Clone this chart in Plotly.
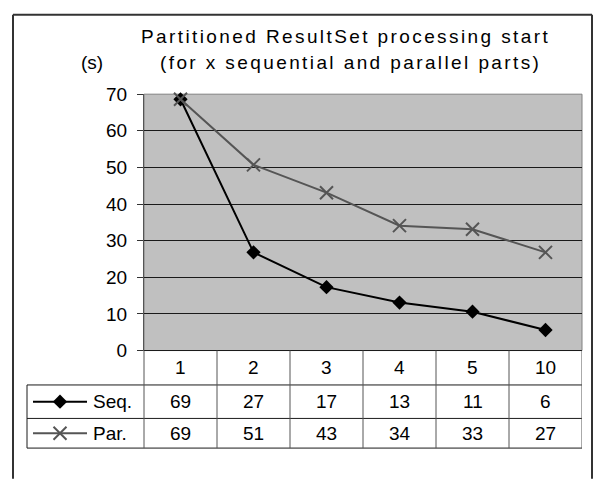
import plotly.graph_objects as go

categories = ["1", "2", "3", "4", "5", "10"]
seq_values = [68.6, 26.8, 17.3, 13.1, 10.6, 5.6]
par_values = [68.6, 50.7, 43.1, 34.1, 33.1, 26.8]
series_names = ["Seq.", "Par."]
y_ticks = [0, 10, 20, 30, 40, 50, 60, 70]
title_line1 = "Partitioned ResultSet processing start"
title_line2 = "(for x sequential and parallel parts)"
unit_label = "(s)"

W, H = 599, 483
FONT = "Liberation Sans, Arial, sans-serif"

def px(x):
    return x / W

def py(y):
    return 1 - y / H

plot_l, plot_r, plot_t, plot_b = 144, 582, 88, 356
row_lines = [356, 392, 427, 458]
label_l = 27

xs = list(range(len(categories)))

fig = go.Figure()

seq_color = "#000000"
par_color = "#555555"

fig.add_trace(go.Scatter(
    x=xs, y=seq_values, mode="lines+markers", name=series_names[0],
    line=dict(color=seq_color, width=2),
    marker=dict(symbol="diamond", size=11, color=seq_color),
    showlegend=False, cliponaxis=False,
))
fig.add_trace(go.Scatter(
    x=xs, y=par_values, mode="lines+markers", name=series_names[1],
    line=dict(color=par_color, width=2),
    marker=dict(symbol="x-thin", size=13, line=dict(color=par_color, width=2)),
    showlegend=False, cliponaxis=False,
))

# legend keys inside the table (pixel-coordinate axes covering the page)
key_rows = [(409.5, seq_color, dict(symbol="diamond", size=11, color=seq_color)),
            (442.5, par_color, dict(symbol="x-thin", size=13, line=dict(color=par_color, width=2)))]
for (yk, col, mk), name in zip(key_rows, series_names):
    fig.add_trace(go.Scatter(
        x=[33, 87], y=[yk, yk], mode="lines", line=dict(color=col, width=2),
        xaxis="x2", yaxis="y2", showlegend=False, hoverinfo="skip"))
    fig.add_trace(go.Scatter(
        x=[60], y=[yk], mode="markers", marker=mk,
        xaxis="x2", yaxis="y2", showlegend=False, hoverinfo="skip"))

shapes = []
line_col = "#1a1a1a"
# plot area background
shapes.append(dict(type="rect", xref="paper", yref="paper", x0=px(plot_l), x1=px(plot_r), y0=py(plot_b), y1=py(plot_t),
                   fillcolor="#c0c0c0", line=dict(color="#808080", width=1), layer="below"))
# outer frame
frame_col = "#333333"
shapes.append(dict(type="line", xref="paper", yref="paper", x0=px(13), x1=px(13), y0=py(5), y1=py(490), line=dict(color=frame_col, width=2)))
shapes.append(dict(type="line", xref="paper", yref="paper", x0=px(13), x1=px(592), y0=py(5), y1=py(5), line=dict(color=frame_col, width=2)))
shapes.append(dict(type="line", xref="paper", yref="paper", x0=px(592), x1=px(592), y0=py(5), y1=py(490), line=dict(color=frame_col, width=2)))

# table: horizontal lines
for i, yl in enumerate(row_lines):
    x0 = plot_l if i == 0 else label_l
    shapes.append(dict(type="line", xref="paper", yref="paper", x0=px(x0), x1=px(plot_r), y0=py(yl), y1=py(yl), line=dict(color=line_col, width=1)))
# table verticals
shapes.append(dict(type="line", xref="paper", yref="paper", x0=px(label_l), x1=px(label_l), y0=py(row_lines[1]), y1=py(row_lines[3]), line=dict(color=line_col, width=1)))
shapes.append(dict(type="line", xref="paper", yref="paper", x0=px(plot_l), x1=px(plot_l), y0=py(plot_b), y1=py(row_lines[3]), line=dict(color="#555555", width=1)))
for i in range(len(categories)):
    shapes.append(dict(type="line", xref="x", yref="paper", x0=i + 0.5, x1=i + 0.5, y0=py(plot_b), y1=py(row_lines[3]), line=dict(color="#555555", width=1)))

def spaced(t, sp=2.4):
    return '<span style="letter-spacing:%.1fpx">%s</span>' % (sp, t)

annotations = []
tf = dict(family=FONT, size=19, color="#000000")
annotations.append(dict(text=spaced(title_line1), x=px(345), y=py(28), xref="paper", yref="paper", showarrow=False, font=tf, xanchor="center", yanchor="middle"))
annotations.append(dict(text=spaced(title_line2), x=px(350), y=py(55), xref="paper", yref="paper", showarrow=False, font=tf, xanchor="center", yanchor="middle"))
annotations.append(dict(text=unit_label, x=px(92), y=py(55), xref="paper", yref="paper", showarrow=False, font=tf, xanchor="center", yanchor="middle"))

row_centers = [(row_lines[0] + row_lines[1]) / 2, (row_lines[1] + row_lines[2]) / 2, (row_lines[2] + row_lines[3]) / 2]
for i, c in enumerate(categories):
    annotations.append(dict(text=c, x=i, y=py(row_centers[0]), xref="x", yref="paper", showarrow=False, font=tf, xanchor="center", yanchor="middle"))
for vals, rc in ((seq_values, row_centers[1]), (par_values, row_centers[2])):
    for i, v in enumerate(vals):
        annotations.append(dict(text=str(int(v + 0.5)), x=i, y=py(rc), xref="x", yref="paper", showarrow=False, font=tf, xanchor="center", yanchor="middle"))
for name, rc in zip(series_names, row_centers[1:]):
    annotations.append(dict(text=name, x=px(91), y=py(rc), xref="paper", yref="paper", showarrow=False, font=tf, xanchor="left", yanchor="middle"))

fig.update_layout(
    width=W, height=H,
    margin=dict(l=0, r=0, t=0, b=0),
    paper_bgcolor="#ffffff",
    plot_bgcolor="rgba(0,0,0,0)",
    font=dict(family=FONT, size=19, color="#000000"),
    xaxis=dict(domain=[px(plot_l), px(plot_r)], range=[-0.5, len(categories) - 0.5],
               showticklabels=False, showgrid=False, zeroline=False, ticks="", showline=False, fixedrange=True),
    yaxis=dict(domain=[py(plot_b), py(plot_t)], range=[0, 70], tickvals=y_ticks,
               showgrid=True, gridcolor="#1a1a1a", gridwidth=1, zeroline=False,
               showline=True, linecolor="#555555", linewidth=1,
               ticks="outside", ticklen=6, tickcolor="#333333", ticklabelstandoff=6,
               tickfont=dict(family=FONT, size=19, color="#000000")),
    xaxis2=dict(domain=[0, 1], range=[0, W], visible=False, anchor="y2", fixedrange=True),
    yaxis2=dict(domain=[0, 1], range=[H, 0], visible=False, anchor="x2", fixedrange=True),
    shapes=shapes,
    annotations=annotations,
    showlegend=False,
)

fig.write_html("out.html")
